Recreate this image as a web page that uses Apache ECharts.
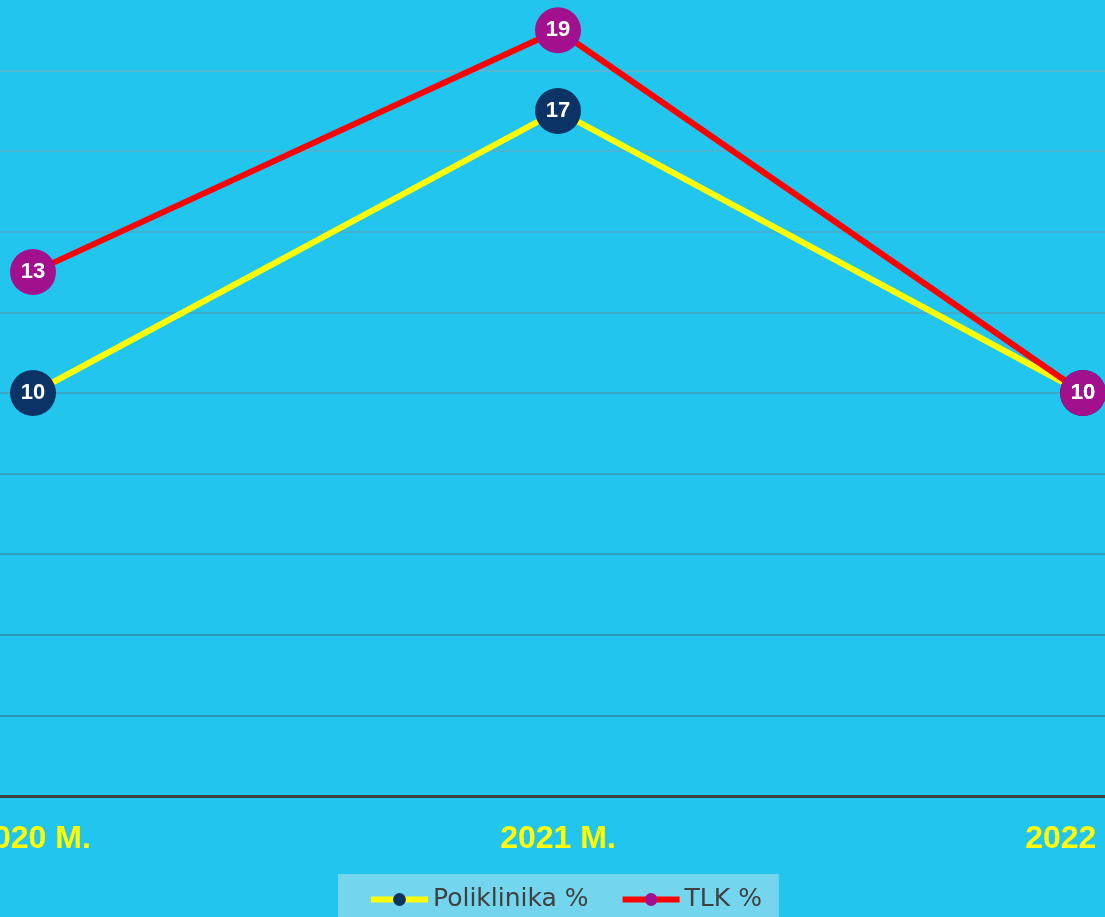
<!DOCTYPE html>
<html>
<head>
<meta charset="utf-8">
<script src="https://cdn.jsdelivr.net/npm/echarts@6/dist/echarts.min.js"></script>
<style>
  html, body { margin: 0; padding: 0; background: #22C5EE; }
  #main { width: 1105px; height: 917px; }
</style>
</head>
<body>
<div id="main"></div>
<script>
var categories = ['2020 M.', '2021 M.', '2022 M.'];
var poliklinika = [10, 17, 10];
var tlk = [13, 19, 10];
var seriesNames = ['Poliklinika %', 'TLK %'];

// grid line colours, bottom (0) to top (20)
var gridColors = ['#2a7c98', '#2b7f9b', '#2f86a2', '#358eaa', '#3b95b1', '#429cb7',
                  '#49a3bd', '#51a9c3', '#59afc8', '#62b5cc', '#6ab9cf'];

var chart = echarts.init(document.getElementById('main'));

var labelStyle = {
    show: true,
    position: 'inside',
    color: '#ffffff',
    fontWeight: 'bold',
    fontSize: 22,
    fontFamily: 'Liberation Sans'
};

// the original picture is a crop: the plot runs past both edges
var option = {
    backgroundColor: '#22C5EE',
    animation: false,
    grid: {
        left: -229.5,
        right: -240.5,
        top: -10,
        bottom: 121,
        containLabel: false,
        outerBoundsMode: 'none'
    },
    legend: {
        data: seriesNames,
        top: 874,
        left: 338,
        backgroundColor: '#74D6EE',
        borderRadius: 0,
        padding: [13, 17, 11, 30],
        itemWidth: 57,
        itemHeight: 16,
        itemGap: 31,
        lineStyle: { width: 6 },
        textStyle: {
            color: '#404040',
            fontSize: 25,
            fontFamily: 'DejaVu Sans'
        }
    },
    xAxis: {
        type: 'category',
        data: categories,
        boundaryGap: true,
        axisLine: { lineStyle: { color: '#404040', width: 3 } },
        axisTick: { show: false },
        axisLabel: {
            color: '#FFFF00',
            fontWeight: 'bold',
            fontSize: 32,
            fontFamily: 'Liberation Sans',
            margin: 27
        }
    },
    yAxis: {
        type: 'value',
        min: 0,
        max: 20,
        interval: 2,
        axisLine: { show: false },
        axisTick: { show: false },
        axisLabel: { show: false },
        splitLine: { lineStyle: { color: gridColors, width: 1.5 } }
    },
    series: [
        {
            name: seriesNames[0],
            type: 'line',
            data: poliklinika,
            symbol: 'circle',
            symbolSize: 46,
            clip: false,
            lineStyle: { color: '#FFFF00', width: 6 },
            itemStyle: { color: '#0B3366' },
            label: labelStyle
        },
        {
            name: seriesNames[1],
            type: 'line',
            data: tlk,
            symbol: 'circle',
            symbolSize: 46,
            clip: false,
            lineStyle: { color: '#FF0000', width: 6 },
            itemStyle: { color: '#A3108D' },
            label: labelStyle
        }
    ]
};
chart.setOption(option);
</script>
</body>
</html>
